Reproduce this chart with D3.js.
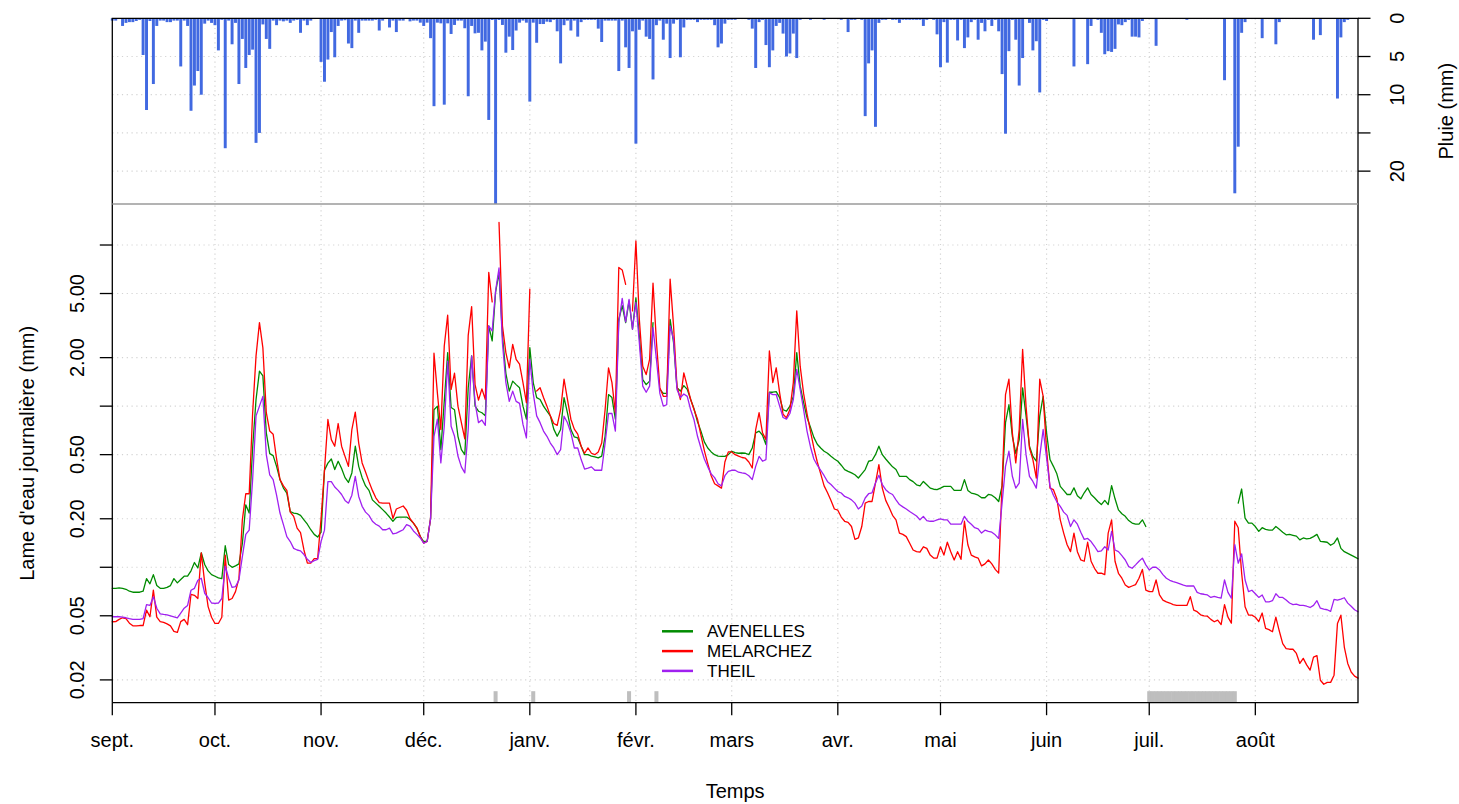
<!DOCTYPE html>
<html><head><meta charset="utf-8">
<script src="https://cdn.jsdelivr.net/npm/d3@7"></script>
<style>
body{margin:0;background:#fff;}
svg text{font-family:"Liberation Sans",Arial,Helvetica,sans-serif;fill:#000;}
</style>
</head><body>
<svg id="c" width="1459" height="804"></svg>
<script>
// ---------------- DATA ----------------
const startDate = "2009-09-01"; // hydrological year, 365 daily values
const monthLabels = ["sept.","oct.","nov.","déc.","janv.","févr.","mars","avr.","mai","juin","juil.","août"];
const yTicks = [0.02,0.05,0.1,0.2,0.5,1,2,5,10];
const yTickLabels = ["0.02","0.05","","0.20","0.50","","2.00","5.00",""];
const rainTicks = [0,5,10,15,20];
const rainTickLabels = ["0","5","10","","20"];
const seriesNames = ["AVENELLES","MELARCHEZ","THEIL"];
const seriesColors = ["#008B00","#FF0000","#A020F0"];

// daily rainfall (mm)
const rain = [
0.3,0.3,0.1,1.0,0.6,0.5,0.5,0.35,0.2,4.8,
12.0,0.35,8.6,1.0,0.3,0.3,0.5,0.5,0.3,0.3,
6.3,0.3,1.0,12.1,8.8,6.9,10.0,0.7,0.3,0.6,
0.9,4.2,0.2,17.0,0.3,3.4,0.6,8.6,2.7,6.5,
4.8,4.1,16.3,15.0,0.8,2.7,4.0,0.3,0.9,0.3,
0.4,0.3,0.6,0.3,0.2,1.9,0.3,0.9,0.3,0.1,
0,5.7,8.3,5.4,1.8,5.1,1.0,0.3,0.25,3.3,
3.9,0.3,1.9,0.3,0.3,0.3,0.3,0.2,1.6,0.3,
0.1,1.2,0.3,1.8,0.3,0.3,0.1,0.4,0.3,0.3,
0.57,1.0,0.57,2.6,11.5,0.57,0.66,11.3,0.66,2.05,
0.87,0.3,0.3,1.3,10.2,1.0,1.97,1.9,4.2,3.05,
13.3,0.22,24.3,0.22,0.87,4.5,2.4,4.15,1.6,0.57,
0.3,0.57,10.9,0.57,3.2,0.75,0.75,0.44,0.5,0.2,
1.7,5.9,0.9,0.3,1.6,0.3,2.4,0.5,0.2,0.2,
0.2,0.2,1.35,3.1,0.3,0.3,0.3,0.3,6.9,0.3,
3.8,6.5,1.7,16.4,1.5,0.3,2.4,2.7,8.0,0.9,
0.3,2.8,0.7,5.2,0.7,0.2,5.1,1.2,0.2,0.2,
0.2,0.5,0.2,0.2,0.2,0.2,0.9,3.8,3.3,0.7,
0.2,0.2,0.2,0.1,0.1,0.1,0.2,1.35,6.5,0.5,
0.2,3.5,6.4,4.2,1.0,0.6,2.0,5.0,4.6,2.0,
5.2,0.2,0.1,0.1,0.2,0.1,0.1,0.1,0.2,0.1,
0.1,0.1,0.1,0.2,0.1,1.8,0.2,0.2,0.1,0.2,
12.8,5.9,4.2,14.2,0.6,0.2,0.2,0.1,0.2,0.2,
0.6,0.2,0.2,0.2,0.2,0.2,0.2,1.0,0.2,0.1,
0.2,2.1,6.4,0.5,5.8,0.2,0.2,2.9,0.2,3.9,
2.5,0.5,0.2,2.8,0.6,1.7,0.2,1.0,0.2,1.7,
7.3,15.1,4.3,0.2,2.8,8.8,5.2,0.1,0.6,4.2,
3.0,9.7,0.2,0.35,0.1,0.1,0.1,0.1,0.1,0.1,
0.1,6.3,0.1,0.1,0.1,6.0,1.0,0.1,0.2,1.9,
4.7,4.3,4.4,4.0,0.8,0.9,0.5,0.2,2.4,2.4,
2.5,0.35,0.1,0.1,0.1,3.6,0.1,0.1,0.1,0.1,
0.1,0.1,0.1,0.1,0.2,0.1,0.1,0.1,0.1,0.1,
0.1,0.1,0.1,0.1,0.1,8.1,0.1,0.1,22.9,16.8,
1.9,0.5,0.1,0.1,0.1,0.1,2.6,0.1,0.1,0.1,
3.4,0.5,0.1,0.1,0.1,0.1,0.1,0.1,0.1,0.1,
0.1,2.8,0.1,2.2,0.1,0.1,0.1,0.1,10.5,2.5,
0.5,0.2,0.1,0.1,0.1];

// daily runoff depth (mm), null = missing
const avenelles = [
0.074,0.074,0.0745,0.074,0.073,0.071,0.070,0.070,0.070,0.071,
0.085,0.079,0.090,0.077,0.074,0.074,0.075,0.077,0.085,0.080,
0.084,0.088,0.088,0.095,0.107,0.099,0.123,0.104,0.095,0.090,
0.088,0.086,0.085,0.136,0.104,0.100,0.102,0.105,0.140,0.244,
0.217,0.55,1.10,1.65,1.54,0.683,0.507,0.493,0.423,0.350,
0.310,0.289,0.222,0.217,0.215,0.210,0.197,0.185,0.171,0.160,
0.154,0.165,0.40,0.443,0.470,0.404,0.455,0.410,0.360,0.336,
0.385,0.564,0.423,0.360,0.320,0.300,0.262,0.250,0.239,0.228,
0.217,0.205,0.193,0.204,0.205,0.205,0.205,0.198,0.188,0.175,
0.155,0.1445,0.145,0.2,0.95,1.0,0.537,1.07,2.15,0.98,
0.95,0.65,0.537,0.5,1.3,2.05,1.0,0.93,0.91,0.87,
3.15,2.54,5.1,6.76,2.73,1.6,1.24,1.43,1.36,1.3,
1.0,0.83,2.31,1.4,1.13,1.1,1.0,0.93,0.87,0.72,
0.65,0.716,1.13,0.909,0.716,0.644,0.635,0.564,0.50,0.50,
0.49,0.485,0.477,0.49,0.65,1.18,1.13,0.83,3.46,4.2,
3.3,4.5,3.0,4.7,2.73,1.46,1.36,1.43,3.3,null,
1.27,1.2,1.2,3.46,2.48,1.3,1.24,1.34,1.27,1.10,
0.96,0.80,0.70,0.60,0.55,0.52,0.50,0.49,0.488,0.488,
0.50,0.525,0.515,0.51,0.512,0.51,0.50,0.55,0.683,0.70,
0.66,0.577,1.22,1.22,1.23,1.13,0.95,0.93,1.0,1.15,
2.15,1.33,1.05,0.85,0.74,0.64,0.58,0.55,0.525,0.51,
0.488,0.47,0.455,0.43,0.404,0.394,0.385,0.375,0.358,0.38,
0.404,0.455,0.46,0.50,0.564,0.50,0.47,0.444,0.42,0.404,
0.367,0.367,0.367,0.35,0.34,0.325,0.32,0.341,0.325,0.31,
0.305,0.303,0.31,0.318,0.318,0.318,0.30,0.30,0.30,0.35,
0.30,0.289,0.285,0.28,0.27,0.27,0.283,0.28,0.27,0.256,
0.32,0.79,1.02,0.65,0.51,0.62,1.30,0.87,0.564,0.488,
0.455,0.866,1.15,0.683,0.466,0.423,0.38,0.318,0.30,0.283,
0.283,0.311,0.278,0.266,0.29,0.311,0.283,0.27,0.256,0.245,
0.26,0.245,0.321,0.266,0.227,0.215,0.207,0.195,0.188,0.185,
0.185,0.197,0.179,null,null,null,null,null,null,null,
null,null,null,null,null,null,null,null,null,null,
null,null,null,null,null,null,null,null,null,0.25,
0.306,0.202,0.188,0.188,0.179,0.167,0.176,0.172,0.17,0.17,
0.179,0.172,0.165,0.159,0.16,0.158,0.156,0.148,0.152,0.15,
0.151,0.155,0.16,0.145,0.144,0.143,0.137,0.141,0.152,0.131,
0.125,0.122,0.119,0.116,0.113];

const melarchez = [
0.0459,0.046,0.0475,0.0486,0.048,0.045,0.0433,0.0433,0.0435,0.0435,
0.0542,0.0493,0.0722,0.049,0.046,0.0455,0.0445,0.0433,0.040,0.0394,
0.046,0.0475,0.044,0.068,0.067,0.064,0.123,0.080,0.057,0.049,
0.0448,0.0448,0.049,0.119,0.0626,0.064,0.0706,0.085,0.197,0.286,
0.286,0.90,2.05,3.3,2.3,0.91,0.70,0.67,0.47,0.35,
0.32,0.30,0.22,0.207,0.175,0.164,0.128,0.106,0.106,0.113,
0.113,0.20,0.40,0.826,0.62,0.564,0.78,0.564,0.488,0.423,
0.716,0.918,0.59,0.444,0.39,0.34,0.30,0.27,0.252,0.25,
0.25,0.25,0.201,0.23,0.235,0.24,0.226,0.20,0.188,0.175,
0.155,0.141,0.1445,0.2,2.13,1.2,0.716,2.36,3.67,1.27,
1.6,1.0,0.79,0.626,2.75,4.15,1.36,1.09,1.28,1.1,
6.76,4.44,null,13.8,3.15,2.15,1.73,2.42,1.95,1.82,
1.4,1.05,5.32,null,1.24,1.3,1.13,1.0,0.87,0.78,
0.76,0.95,1.47,1.10,0.83,0.72,0.67,0.564,0.51,0.55,
0.51,0.50,0.52,0.59,0.95,1.73,1.4,0.91,7.25,7.0,
5.7,null,3.9,10.6,3.46,1.77,1.57,1.95,5.8,2.5,
1.3,1.15,1.15,6.14,3.15,1.33,1.1,1.61,1.33,1.1,
0.95,0.83,0.66,0.53,0.44,0.37,0.33,0.32,0.31,0.45,
0.52,0.52,0.50,0.49,0.48,0.475,0.45,0.413,0.716,0.91,
0.683,0.62,2.2,1.4,1.73,1.21,0.89,0.846,0.953,1.4,
3.9,1.77,1.2,0.9,0.7,0.55,0.45,0.38,0.32,0.29,
0.26,0.23,0.226,0.205,0.193,0.19,0.179,0.149,0.152,0.179,
0.25,0.256,0.256,0.333,0.434,0.31,0.26,0.235,0.21,0.197,
0.163,0.16,0.155,0.141,0.128,0.125,0.124,0.134,0.131,0.119,
0.114,0.114,0.134,0.119,0.143,0.125,0.111,0.125,0.112,0.193,
0.138,0.119,0.116,0.114,0.102,0.105,0.111,0.105,0.097,0.092,
0.33,1.18,1.47,0.683,0.444,0.716,2.25,1.00,0.55,0.466,
0.358,1.47,1.15,0.537,0.31,0.303,0.266,0.197,0.163,0.138,
0.125,0.163,0.125,0.111,0.109,0.143,0.109,0.0986,0.0918,0.092,
0.09,0.163,0.197,0.109,0.0918,0.0855,0.0776,0.075,0.0765,0.078,
0.0855,0.097,0.0722,0.0707,0.0707,0.0834,0.0673,0.0626,0.061,0.060,
0.0587,0.058,0.058,0.058,0.058,0.0657,0.0542,0.053,0.0507,0.050,
0.0497,0.0475,0.0459,0.047,0.0441,0.0587,0.049,0.045,0.193,0.176,
0.0918,0.0569,0.0505,0.0505,0.049,0.046,0.052,0.0417,0.041,0.0398,
0.049,0.0402,0.0336,0.0313,0.031,0.031,0.0292,0.0253,0.0272,0.0248,
0.023,0.0277,0.0283,0.0199,0.0188,0.0193,0.0193,0.0214,0.0448,0.0504,
0.032,0.0253,0.0224,0.0211,0.0205];

const theil = [
0.0493,0.0493,0.0493,0.049,0.0486,0.048,0.0475,0.0475,0.0475,0.048,
0.0586,0.058,0.0656,0.0557,0.0514,0.051,0.0507,0.050,0.0493,0.0486,
0.052,0.0557,0.058,0.072,0.074,0.083,0.0855,0.069,0.0647,0.060,
0.0597,0.060,0.064,0.1017,0.0855,0.075,0.0758,0.0834,0.1165,0.16,
0.17,0.35,0.87,1.0,1.15,0.50,0.375,0.35,0.28,0.217,
0.184,0.155,0.1445,0.131,0.128,0.1265,0.12,0.112,0.107,0.11,
0.112,0.1445,0.17,0.34,0.34,0.315,0.30,0.283,0.26,0.25,
0.28,0.367,0.275,0.239,0.22,0.21,0.193,0.185,0.18,0.171,
0.171,0.175,0.161,0.163,0.167,0.171,0.184,0.18,0.168,0.16,
0.152,0.141,0.1445,0.2,0.65,0.83,0.444,0.75,1.9,0.75,
0.65,0.49,0.42,0.385,0.716,2.05,1.05,0.79,0.82,0.76,
3.15,2.93,5.2,7.2,2.48,1.4,1.07,1.24,1.07,1.04,
0.77,0.635,1.95,1.2,0.87,0.79,0.7,0.65,0.59,0.55,
0.5,0.537,0.866,0.788,0.683,0.55,0.55,0.466,0.407,0.413,
0.42,0.40,0.40,0.40,0.59,0.9,0.9,0.70,3.3,4.66,
3.33,4.6,3.0,4.4,2.48,1.33,1.22,1.33,3.07,1.95,
1.2,1.0,1.02,3.15,2.6,1.27,1.13,1.19,1.15,0.95,
0.82,0.65,0.55,0.47,0.42,0.38,0.36,0.33,0.32,0.37,
0.394,0.40,0.40,0.389,0.385,0.382,0.37,0.35,0.423,0.488,
0.455,0.466,1.21,1.18,1.18,1.0,0.85,0.83,0.9,1.1,
1.69,1.27,0.95,0.70,0.56,0.47,0.43,0.40,0.37,0.34,
0.326,0.31,0.295,0.289,0.275,0.27,0.262,0.25,0.23,0.24,
0.269,0.286,0.29,0.333,0.372,0.326,0.303,0.29,0.283,0.262,
0.245,0.237,0.23,0.222,0.215,0.208,0.197,0.207,0.195,0.193,
0.193,0.197,0.20,0.197,0.197,0.185,0.185,0.185,0.185,0.207,
0.193,0.185,0.176,0.173,0.163,0.17,0.167,0.165,0.159,0.151,
0.25,0.423,0.525,0.367,0.31,0.333,0.826,0.50,0.367,0.341,
0.31,0.488,0.716,0.477,0.318,0.28,0.255,0.239,0.22,0.21,
0.179,0.197,0.185,0.165,0.149,0.151,0.1445,0.135,0.125,0.1265,
0.134,0.128,0.167,0.128,0.125,0.118,0.111,0.101,0.0986,0.1035,
0.109,0.114,0.1035,0.0962,0.10,0.10,0.0962,0.09,0.0855,0.083,
0.0814,0.0803,0.079,0.0776,0.0765,0.0765,0.0765,0.0699,0.0685,0.068,
0.0673,0.065,0.066,0.065,0.0643,0.0834,0.0699,0.0643,0.138,0.106,
0.121,0.0834,0.0707,0.072,0.0685,0.065,0.0673,0.0611,0.061,0.062,
0.0685,0.065,0.065,0.0626,0.060,0.0587,0.059,0.058,0.058,0.0573,
0.0563,0.058,0.062,0.0557,0.055,0.0545,0.0532,0.0632,0.0626,0.0635,
0.0647,0.0599,0.0573,0.0545,0.053];

// ---------------- CHART ----------------
const series = [avenelles, melarchez, theil];
const n = rain.length;
const t0 = d3.utcParse("%Y-%m-%d")(startDate);
const dates = d3.range(n).map(i => d3.utcDay.offset(t0, i));

const L = 112.3, R = 1358, T = 18.3, MID = 204, B = 702.7;
const svg = d3.select("#c");

const x = d3.scaleUtc().domain([dates[0], dates[n-1]]).range([L, R]);
const dayW = (R - L) / (n - 1);
const yRain = d3.scaleLinear().domain([0, d3.max(rain)]).range([T, MID]);
const allQ = series.flat().filter(v => v != null);
const lo = Math.log10(d3.min(allQ)), hi = Math.log10(d3.max(allQ)), pad = 0.04 * (hi - lo);
const y = d3.scaleLog().domain([10 ** (lo - pad), 10 ** (hi + pad)]).range([B, MID]);

const monthStarts = d3.utcMonth.range(dates[0], d3.utcDay.offset(dates[n-1], 1));

// grid
const grid = svg.append("g").attr("stroke", "#d3d3d3").attr("stroke-width", 1.2)
  .attr("stroke-dasharray", "1.2,3.6");
monthStarts.slice(1).forEach(m => grid.append("line")
  .attr("x1", x(m)).attr("x2", x(m)).attr("y1", T).attr("y2", B));
yTicks.forEach(v => grid.append("line")
  .attr("x1", L).attr("x2", R).attr("y1", y(v)).attr("y2", y(v)));
rainTicks.slice(1).forEach(v => grid.append("line")
  .attr("x1", L).attr("x2", R).attr("y1", yRain(v)).attr("y2", yRain(v)));

// rain bars
svg.append("g").attr("fill", "#4169E1")
  .selectAll("rect")
  .data(rain.map((v, i) => ({ v, d: dates[i] })).filter(o => o.v > 0))
  .join("rect")
  .attr("x", o => x(o.d) - dayW * 0.43)
  .attr("width", dayW * 0.86)
  .attr("y", T)
  .attr("height", o => yRain(o.v) - T);

// missing-data markers
const missingDays = d3.range(n).filter(i => series.some(s => s[i] == null));
svg.append("g").attr("fill", "#bebebe")
  .selectAll("rect").data(missingDays).join("rect")
  .attr("x", i => x(dates[i]) - dayW / 2 - 0.3)
  .attr("width", dayW + 0.6)
  .attr("y", B - 11.5)
  .attr("height", 11.5);

// series lines
const line = d3.line()
  .defined(v => v != null)
  .x((v, i) => x(dates[i]))
  .y(v => y(v));
series.forEach((s, k) => {
  svg.append("path").datum(s)
    .attr("fill", "none")
    .attr("stroke", seriesColors[k])
    .attr("stroke-width", 1.3)
    .attr("stroke-linejoin", "round")
    .attr("stroke-linecap", "round")
    .attr("d", line);
});

// frame
const frame = svg.append("g").attr("stroke", "#000").attr("stroke-width", 1.3).attr("fill", "none");
frame.append("path").attr("d", `M${L},${B}V${T}H${R}V${B}H${L}`);
svg.append("line").attr("x1", L).attr("x2", R).attr("y1", MID).attr("y2", MID)
  .attr("stroke", "#9a9a9a").attr("stroke-width", 1.6);

// ticks
const tk = svg.append("g").attr("stroke", "#000").attr("stroke-width", 1.3);
monthStarts.forEach(m => tk.append("line").attr("x1", x(m)).attr("x2", x(m)).attr("y1", B).attr("y2", B + 12.5));
yTicks.forEach(v => tk.append("line").attr("x1", L - 12.5).attr("x2", L).attr("y1", y(v)).attr("y2", y(v)));
rainTicks.forEach(v => tk.append("line").attr("x1", R).attr("x2", R + 12.5).attr("y1", yRain(v)).attr("y2", yRain(v)));

// tick labels
const txt = svg.append("g").attr("font-size", 20);
monthStarts.forEach((m, i) => txt.append("text")
  .attr("x", x(m)).attr("y", B + 44.3).attr("text-anchor", "middle").text(monthLabels[i]));
yTicks.forEach((v, i) => { if (yTickLabels[i]) txt.append("text")
  .attr("transform", `translate(84,${y(v)}) rotate(-90)`)
  .attr("text-anchor", "middle").text(yTickLabels[i]); });
rainTicks.forEach((v, i) => { if (rainTickLabels[i]) txt.append("text")
  .attr("transform", `translate(1404,${yRain(v)}) rotate(-90)`)
  .attr("text-anchor", "middle").text(rainTickLabels[i]); });

// axis titles
txt.append("text").attr("x", (L + R) / 2).attr("y", 798).attr("text-anchor", "middle").text("Temps");
txt.append("text").attr("transform", `translate(33.5,${(MID + B) / 2}) rotate(-90)`)
  .attr("text-anchor", "middle").text("Lame d'eau journalière (mm)");
txt.append("text").attr("transform", `translate(1453,${(T + MID) / 2}) rotate(-90)`)
  .attr("text-anchor", "middle").text("Pluie (mm)");

// legend
const lg = svg.append("g");
seriesNames.forEach((name, i) => {
  const yy = 631.3 + i * 19.8;
  lg.append("line").attr("x1", 662).attr("x2", 693).attr("y1", yy).attr("y2", yy)
    .attr("stroke", seriesColors[i]).attr("stroke-width", 2.5);
  lg.append("text").attr("x", 707).attr("y", yy + 6.1).attr("font-size", 17).text(name);
});
</script>
</body></html>
